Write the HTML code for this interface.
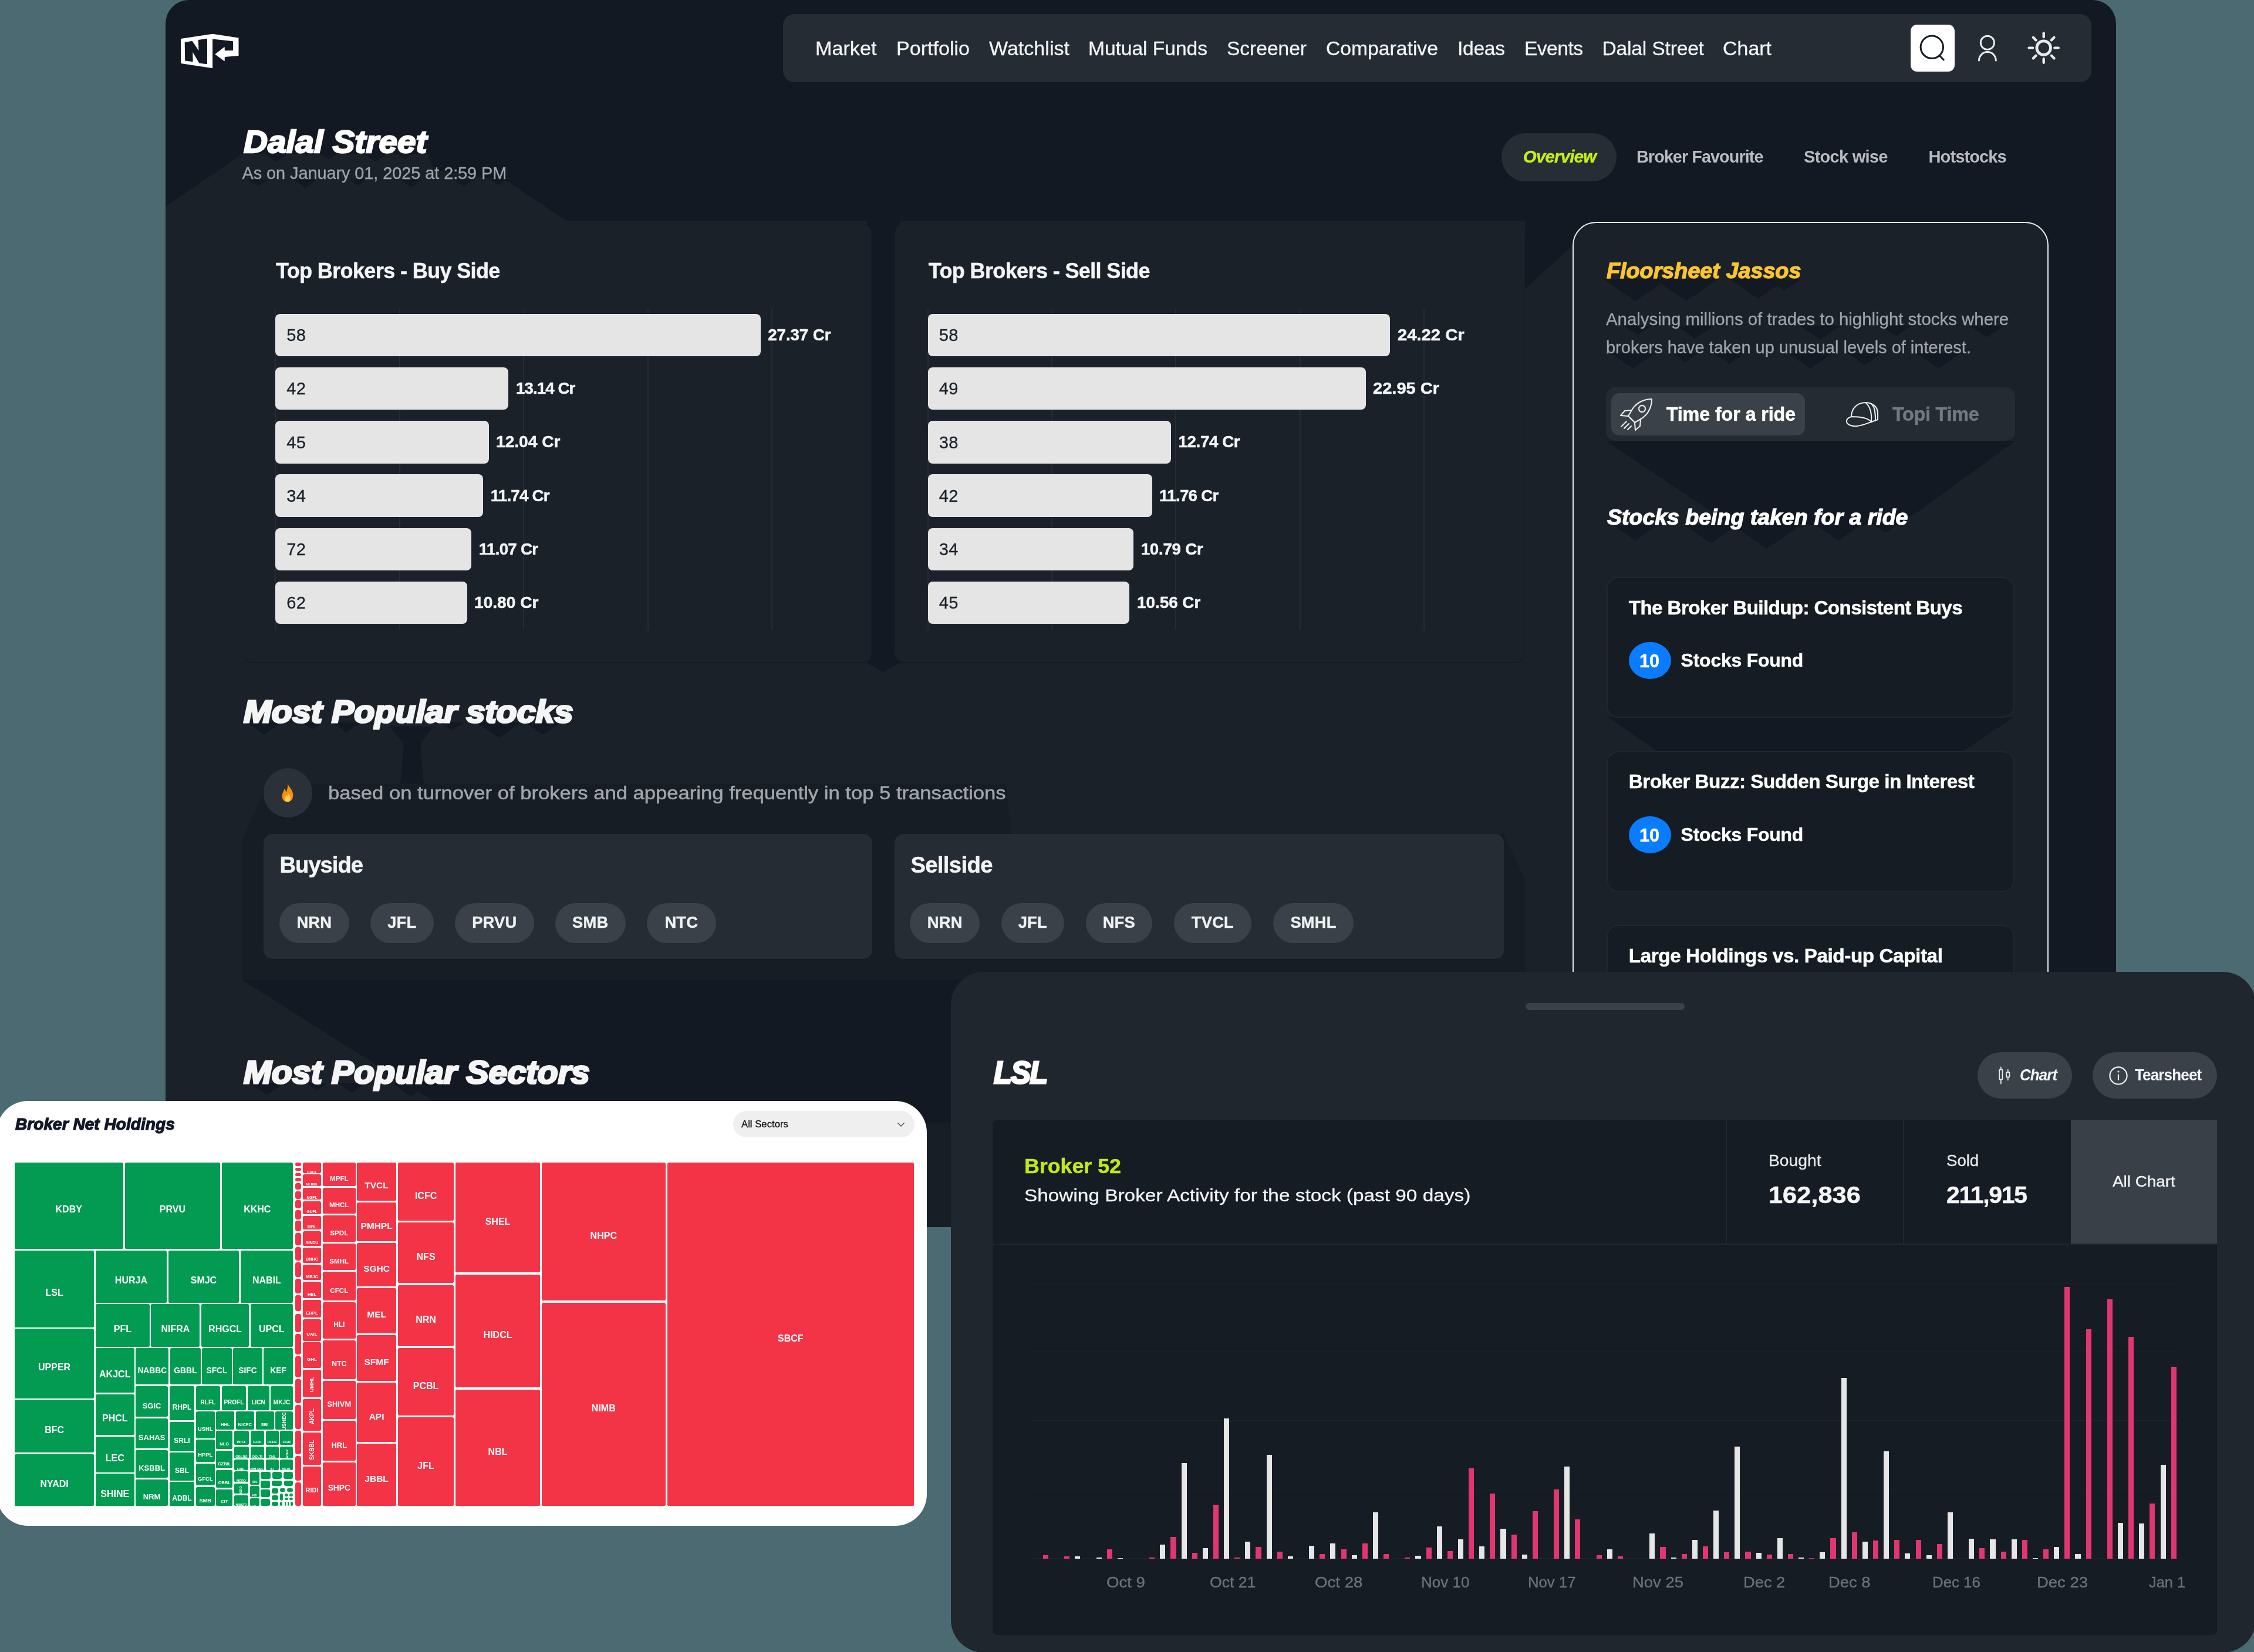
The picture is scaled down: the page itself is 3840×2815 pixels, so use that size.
<!DOCTYPE html>
<html><head><meta charset="utf-8"><title>Dalal Street</title>
<style>
html,body{margin:0;padding:0}
body{width:3840px;height:2815px;overflow:hidden;background:#4c6a72;position:relative;font-family:"Liberation Sans",sans-serif}
.t{position:absolute;white-space:nowrap;line-height:1.1172em}
.b{position:absolute;box-sizing:border-box}
.c{position:absolute;display:flex;align-items:center;justify-content:center;white-space:nowrap;color:#fff;font-weight:700;box-sizing:border-box;overflow:hidden}
svg{position:absolute;overflow:visible}
</style></head><body>
<div id="root" style="position:absolute;left:0;top:0;width:3840px;height:2815px;will-change:transform">
<div id="main" style="position:absolute;left:0;top:0;width:3840px;height:2091px;background:#121922;clip-path:inset(0px 235px 0px 282px round 40px 40px 0px 0px)">
<svg width="3840" height="2091" viewBox="0 0 3840 2091" style="left:0;top:0"><polygon points="282.0,352.0 412.0,263.0 728.0,263.0 740.0,290.0 863.0,308.0 965.0,376.0 2598.0,376.0 2598.0,492.0 2680.0,418.0 2680.0,1669.0 411.0,1669.0 1078.0,2091.0 282.0,2091.0" fill="#1b2129" /><polygon points="1477.0,376.0 1533.0,376.0 1533.0,1130.0 1504.5,1145.0 1477.0,1130.0" fill="#121922" /><polygon points="2562.0,1421.0 2598.0,1500.0 2598.0,1669.0 2680.0,1669.0 2680.0,1700.0 2560.0,1700.0" fill="#1b2129" /><polygon points="412.0,1432.0 449.0,1350.0 472.0,1312.0 531.0,1336.0 1714.0,1336.0 1722.0,1421.0 2562.0,1421.0 2598.0,1500.0 2598.0,1669.0 412.0,1669.0" fill="#161d25" /><polygon points="664.0,1238.0 738.0,1238.0 716.0,1268.0 722.0,1336.0 682.0,1336.0 688.0,1268.0" fill="#121922" /><polygon points="419.6,1231.0 480.4,1231.0 450.0,1252.0" fill="#121922" /><polygon points="514.6,1231.0 549.4,1231.0 532.0,1243.0" fill="#121922" /><polygon points="565.4,1231.0 614.6,1231.0 590.0,1248.0" fill="#121922" /><polygon points="812.3,1231.0 887.7,1231.0 850.0,1257.0" fill="#121922" /><polygon points="894.5,1231.0 955.5,1231.0 925.0,1252.0" fill="#121922" /><polygon points="749.7,1231.0 790.3,1231.0 770.0,1245.0" fill="#121922" /><polygon points="426.0,1846.0 484.0,1846.0 455.0,1866.0" fill="#121922" /><polygon points="522.6,1846.0 557.4,1846.0 540.0,1858.0" fill="#121922" /><polygon points="576.8,1846.0 623.2,1846.0 600.0,1862.0" fill="#121922" /><polygon points="668.1,1846.0 731.9,1846.0 700.0,1868.0" fill="#121922" /><polygon points="825.2,1846.0 894.8,1846.0 860.0,1870.0" fill="#121922" /><polygon points="933.9,1846.0 986.1,1846.0 960.0,1864.0" fill="#121922" /><polygon points="449.7,262.0 490.3,262.0 470.0,276.0" fill="#121922" /><polygon points="545.5,262.0 574.5,262.0 560.0,272.0" fill="#121922" /><polygon points="619.7,262.0 660.3,262.0 640.0,276.0" fill="#121922" /><polygon points="675.5,262.0 704.5,262.0 690.0,272.0" fill="#121922" /><polygon points="422.6,306.0 457.4,306.0 440.0,318.0" fill="#121922" /><polygon points="499.7,306.0 540.3,306.0 520.0,320.0" fill="#121922" /><polygon points="595.5,306.0 624.5,306.0 610.0,316.0" fill="#121922" /><polygon points="681.1,306.0 718.9,306.0 700.0,319.0" fill="#121922" /><polygon points="772.6,306.0 807.4,306.0 790.0,318.0" fill="#121922" /><polygon points="835.5,306.0 864.5,306.0 850.0,316.0" fill="#121922" /></svg>
<div class="b" style="left:1579.0px;top:1913.0px;width:43.0px;height:178.0px;background:#171e26;border-radius:0.0px;"></div>
<svg width="3840" height="200" viewBox="0 0 3840 200" style="left:0;top:0"><polygon points="308.0,66.1 362.1,57.8 406.5,64.4 406.5,94.9 382.9,96.9 382.6,104.6 366.3,92.4 382.6,79.7 382.9,86.3 397.1,86.0 397.1,70.2 362.1,66.4 362.1,116.3 308.0,108.0" fill="#fff" /><polygon points="314.7,72.2 327.4,69.7 338.5,86.3 337.7,68.0 353.0,65.8 353.0,109.3 339.4,107.7 328.3,88.8 328.6,105.2 315.2,103.5" fill="#121922" /></svg>
<div class="b" style="left:1334.0px;top:23.5px;width:2229.0px;height:116.5px;background:#252c34;border-radius:19.0px;"></div>
<div class="t" style="left:1389.0px;top:63.6px;font-size:33.57px;font-weight:400;color:#f3f4f5;letter-spacing:0.000px;-webkit-text-stroke:0.30px #f3f4f5;transform:scaleX(1.0185);transform-origin:0 0;">Market</div>
<div class="t" style="left:1526.5px;top:63.6px;font-size:33.57px;font-weight:400;color:#f3f4f5;letter-spacing:0.000px;-webkit-text-stroke:0.30px #f3f4f5;transform:scaleX(1.0150);transform-origin:0 0;">Portfolio</div>
<div class="t" style="left:1684.5px;top:63.6px;font-size:33.57px;font-weight:400;color:#f3f4f5;letter-spacing:0.000px;-webkit-text-stroke:0.30px #f3f4f5;transform:scaleX(1.0154);transform-origin:0 0;">Watchlist</div>
<div class="t" style="left:1854.0px;top:63.6px;font-size:33.57px;font-weight:400;color:#f3f4f5;letter-spacing:-0.036px;-webkit-text-stroke:0.30px #f3f4f5;">Mutual Funds</div>
<div class="t" style="left:2090.0px;top:63.6px;font-size:33.57px;font-weight:400;color:#f3f4f5;letter-spacing:-0.032px;-webkit-text-stroke:0.30px #f3f4f5;">Screener</div>
<div class="t" style="left:2259.0px;top:63.6px;font-size:33.57px;font-weight:400;color:#f3f4f5;letter-spacing:0.000px;-webkit-text-stroke:0.30px #f3f4f5;transform:scaleX(1.0036);transform-origin:0 0;">Comparative</div>
<div class="t" style="left:2483.0px;top:63.6px;font-size:33.57px;font-weight:400;color:#f3f4f5;letter-spacing:-0.281px;-webkit-text-stroke:0.30px #f3f4f5;">Ideas</div>
<div class="t" style="left:2597.0px;top:63.6px;font-size:33.57px;font-weight:400;color:#f3f4f5;letter-spacing:-0.527px;-webkit-text-stroke:0.30px #f3f4f5;">Events</div>
<div class="t" style="left:2729.5px;top:63.6px;font-size:33.57px;font-weight:400;color:#f3f4f5;letter-spacing:-0.173px;-webkit-text-stroke:0.30px #f3f4f5;">Dalal Street</div>
<div class="t" style="left:2935.0px;top:63.6px;font-size:33.57px;font-weight:400;color:#f3f4f5;letter-spacing:0.000px;-webkit-text-stroke:0.30px #f3f4f5;transform:scaleX(1.0110);transform-origin:0 0;">Chart</div>
<div class="b" style="left:3255.0px;top:41.7px;width:75.4px;height:80.1px;background:#ffffff;border-radius:11.0px;"></div>
<svg width="400" height="160" viewBox="3200 0 400 160" style="left:3200px;top:0" fill="none" stroke-linecap="round">
<circle cx="3291.3" cy="80.3" r="19.2" stroke="#131a22" stroke-width="3"/><path d="M3304.8 95.2 L3311.2 102" stroke="#131a22" stroke-width="3"/>
<circle cx="3385.9" cy="72.8" r="11.6" stroke="#e9eaeb" stroke-width="3"/><path d="M3371.5 103 A14.4 14.4 0 0 1 3400.3 103" stroke="#e9eaeb" stroke-width="3"/>
<circle cx="3481.7" cy="81.6" r="11.8" stroke="#e9eaeb" stroke-width="4.8"/>
<g stroke="#e9eaeb" stroke-width="4.4">
<path d="M3481.7 56.5v6.5M3481.7 100.2v6.5M3456.6 81.6h6.5M3500.3 81.6h6.5M3463.9 63.8l4.6 4.6M3494.9 94.8l4.6 4.6M3499.5 63.8l-4.6 4.6M3468.5 94.8l-4.6 4.6"/></g>
</svg>
<div class="t" style="left:415.0px;top:211.7px;font-size:53.35px;font-weight:700;font-style:italic;color:#ffffff;letter-spacing:0.000px;-webkit-text-stroke:2.40px #ffffff;transform:scaleX(1.0645);transform-origin:0 0;">Dalal Street</div>
<div class="t" style="left:412.5px;top:278.9px;font-size:28.87px;font-weight:400;color:#a1a5aa;letter-spacing:-0.050px;-webkit-text-stroke:0.30px #a1a5aa;">As on January 01, 2025 at 2:59 PM</div>
<div class="b" style="left:2557.5px;top:226.5px;width:196.0px;height:82.5px;background:#262d34;border-radius:42.0px;"></div>
<div class="t" style="left:2595.0px;top:251.2px;font-size:29.10px;font-weight:700;font-style:italic;color:#c6ee1b;letter-spacing:-0.631px;-webkit-text-stroke:0.50px #c6ee1b;">Overview</div>
<div class="t" style="left:2787.5px;top:251.2px;font-size:29.10px;font-weight:700;color:#b9bbbe;letter-spacing:-0.931px;-webkit-text-stroke:0.01px #b9bbbe;transform:scaleX(0.9890);transform-origin:0 0;">Broker Favourite</div>
<div class="t" style="left:3073.0px;top:251.2px;font-size:29.10px;font-weight:700;color:#b9bbbe;letter-spacing:-0.769px;-webkit-text-stroke:0.01px #b9bbbe;">Stock wise</div>
<div class="t" style="left:3285.5px;top:251.2px;font-size:29.10px;font-weight:700;color:#b9bbbe;letter-spacing:-0.931px;-webkit-text-stroke:0.01px #b9bbbe;">Hotstocks</div>
<div class="b" style="left:413.0px;top:381.0px;width:1072.0px;height:748.5px;background:#1b2129;border-radius:16.0px;border:1.5px solid #171e26;border-bottom:2.5px solid #141b23;"></div>
<div class="t" style="left:470.0px;top:441.9px;font-size:36.03px;font-weight:700;color:#f3f4f5;letter-spacing:-0.629px;-webkit-text-stroke:0.50px #f3f4f5;">Top Brokers - Buy Side</div>
<div class="b" style="left:468.2px;top:525.5px;width:2.0px;height:548.0px;background:#252c34;border-radius:0.0px;"></div>
<div class="b" style="left:679.7px;top:525.5px;width:2.0px;height:548.0px;background:#252c34;border-radius:0.0px;"></div>
<div class="b" style="left:891.2px;top:525.5px;width:2.0px;height:548.0px;background:#252c34;border-radius:0.0px;"></div>
<div class="b" style="left:1102.5px;top:525.5px;width:2.0px;height:548.0px;background:#252c34;border-radius:0.0px;"></div>
<div class="b" style="left:1314.3px;top:525.5px;width:2.0px;height:548.0px;background:#252c34;border-radius:0.0px;"></div>
<div class="b" style="left:469.2px;top:534.6px;width:826.8px;height:72.6px;background:#e5e5e5;border-radius:8.0px;"></div>
<div class="t" style="left:488.2px;top:535.1px;font-size:29.0px;color:#1a212a;line-height:72.6px;letter-spacing:0.4px;-webkit-text-stroke:0.3px #1a212a">58</div>
<div class="t" style="left:1308.3px;top:555.8px;font-size:27.71px;font-weight:700;color:#f3f4f5;letter-spacing:-0.093px;-webkit-text-stroke:0.50px #f3f4f5;">27.37 Cr</div>
<div class="b" style="left:469.2px;top:625.8px;width:397.0px;height:72.6px;background:#e5e5e5;border-radius:8.0px;"></div>
<div class="t" style="left:488.2px;top:626.3px;font-size:29.0px;color:#1a212a;line-height:72.6px;letter-spacing:0.4px;-webkit-text-stroke:0.3px #1a212a">42</div>
<div class="t" style="left:878.5px;top:647.1px;font-size:27.71px;font-weight:700;color:#f3f4f5;letter-spacing:-0.887px;-webkit-text-stroke:0.50px #f3f4f5;transform:scaleX(0.9966);transform-origin:0 0;">13.14 Cr</div>
<div class="b" style="left:469.2px;top:717.1px;width:363.6px;height:72.6px;background:#e5e5e5;border-radius:8.0px;"></div>
<div class="t" style="left:488.2px;top:717.6px;font-size:29.0px;color:#1a212a;line-height:72.6px;letter-spacing:0.4px;-webkit-text-stroke:0.3px #1a212a">45</div>
<div class="t" style="left:845.1px;top:738.3px;font-size:27.71px;font-weight:700;color:#f3f4f5;letter-spacing:0.000px;-webkit-text-stroke:0.50px #f3f4f5;transform:scaleX(1.0153);transform-origin:0 0;">12.04 Cr</div>
<div class="b" style="left:469.2px;top:808.3px;width:354.3px;height:72.6px;background:#e5e5e5;border-radius:8.0px;"></div>
<div class="t" style="left:488.2px;top:808.8px;font-size:29.0px;color:#1a212a;line-height:72.6px;letter-spacing:0.4px;-webkit-text-stroke:0.3px #1a212a">34</div>
<div class="t" style="left:835.8px;top:829.5px;font-size:27.71px;font-weight:700;color:#f3f4f5;letter-spacing:-0.803px;-webkit-text-stroke:0.50px #f3f4f5;">11.74 Cr</div>
<div class="b" style="left:469.2px;top:899.6px;width:334.3px;height:72.6px;background:#e5e5e5;border-radius:8.0px;"></div>
<div class="t" style="left:488.2px;top:900.1px;font-size:29.0px;color:#1a212a;line-height:72.6px;letter-spacing:0.4px;-webkit-text-stroke:0.3px #1a212a">72</div>
<div class="t" style="left:815.8px;top:920.8px;font-size:27.71px;font-weight:700;color:#f3f4f5;letter-spacing:-0.718px;-webkit-text-stroke:0.50px #f3f4f5;">11.07 Cr</div>
<div class="b" style="left:469.2px;top:990.8px;width:326.8px;height:72.6px;background:#e5e5e5;border-radius:8.0px;"></div>
<div class="t" style="left:488.2px;top:991.3px;font-size:29.0px;color:#1a212a;line-height:72.6px;letter-spacing:0.4px;-webkit-text-stroke:0.3px #1a212a">62</div>
<div class="t" style="left:808.3px;top:1012.0px;font-size:27.71px;font-weight:700;color:#f3f4f5;letter-spacing:0.000px;-webkit-text-stroke:0.50px #f3f4f5;transform:scaleX(1.0153);transform-origin:0 0;">10.80 Cr</div>
<div class="b" style="left:1524.4px;top:381.0px;width:1073.9px;height:748.5px;background:#1b2129;border-radius:16.0px;border:1.5px solid #171e26;border-bottom:2.5px solid #141b23;"></div>
<div class="t" style="left:1581.8px;top:441.9px;font-size:36.03px;font-weight:700;color:#f3f4f5;letter-spacing:-0.634px;-webkit-text-stroke:0.50px #f3f4f5;">Top Brokers - Sell Side</div>
<div class="b" style="left:1579.7px;top:525.5px;width:2.0px;height:548.0px;background:#252c34;border-radius:0.0px;"></div>
<div class="b" style="left:1791.3px;top:525.5px;width:2.0px;height:548.0px;background:#252c34;border-radius:0.0px;"></div>
<div class="b" style="left:2002.4px;top:525.5px;width:2.0px;height:548.0px;background:#252c34;border-radius:0.0px;"></div>
<div class="b" style="left:2213.5px;top:525.5px;width:2.0px;height:548.0px;background:#252c34;border-radius:0.0px;"></div>
<div class="b" style="left:2425.1px;top:525.5px;width:2.0px;height:548.0px;background:#252c34;border-radius:0.0px;"></div>
<div class="b" style="left:1580.7px;top:534.6px;width:787.5px;height:72.6px;background:#e5e5e5;border-radius:8.0px;"></div>
<div class="t" style="left:1599.7px;top:535.1px;font-size:29.0px;color:#1a212a;line-height:72.6px;letter-spacing:0.4px;-webkit-text-stroke:0.3px #1a212a">58</div>
<div class="t" style="left:2380.5px;top:555.8px;font-size:27.71px;font-weight:700;color:#f3f4f5;letter-spacing:0.000px;-webkit-text-stroke:0.50px #f3f4f5;transform:scaleX(1.0542);transform-origin:0 0;">24.22 Cr</div>
<div class="b" style="left:1580.7px;top:625.8px;width:746.4px;height:72.6px;background:#e5e5e5;border-radius:8.0px;"></div>
<div class="t" style="left:1599.7px;top:626.3px;font-size:29.0px;color:#1a212a;line-height:72.6px;letter-spacing:0.4px;-webkit-text-stroke:0.3px #1a212a">49</div>
<div class="t" style="left:2339.4px;top:647.1px;font-size:27.71px;font-weight:700;color:#f3f4f5;letter-spacing:0.000px;-webkit-text-stroke:0.50px #f3f4f5;transform:scaleX(1.0486);transform-origin:0 0;">22.95 Cr</div>
<div class="b" style="left:1580.7px;top:717.1px;width:414.6px;height:72.6px;background:#e5e5e5;border-radius:8.0px;"></div>
<div class="t" style="left:1599.7px;top:717.6px;font-size:29.0px;color:#1a212a;line-height:72.6px;letter-spacing:0.4px;-webkit-text-stroke:0.3px #1a212a">38</div>
<div class="t" style="left:2007.6px;top:738.3px;font-size:27.71px;font-weight:700;color:#f3f4f5;letter-spacing:-0.408px;-webkit-text-stroke:0.50px #f3f4f5;">12.74 Cr</div>
<div class="b" style="left:1580.7px;top:808.3px;width:382.1px;height:72.6px;background:#e5e5e5;border-radius:8.0px;"></div>
<div class="t" style="left:1599.7px;top:808.8px;font-size:29.0px;color:#1a212a;line-height:72.6px;letter-spacing:0.4px;-webkit-text-stroke:0.3px #1a212a">42</div>
<div class="t" style="left:1975.1px;top:829.5px;font-size:27.71px;font-weight:700;color:#f3f4f5;letter-spacing:-0.732px;-webkit-text-stroke:0.50px #f3f4f5;">11.76 Cr</div>
<div class="b" style="left:1580.7px;top:899.6px;width:350.7px;height:72.6px;background:#e5e5e5;border-radius:8.0px;"></div>
<div class="t" style="left:1599.7px;top:900.1px;font-size:29.0px;color:#1a212a;line-height:72.6px;letter-spacing:0.4px;-webkit-text-stroke:0.3px #1a212a">34</div>
<div class="t" style="left:1943.7px;top:920.8px;font-size:27.71px;font-weight:700;color:#f3f4f5;letter-spacing:-0.250px;-webkit-text-stroke:0.50px #f3f4f5;">10.79 Cr</div>
<div class="b" style="left:1580.7px;top:990.8px;width:343.7px;height:72.6px;background:#e5e5e5;border-radius:8.0px;"></div>
<div class="t" style="left:1599.7px;top:991.3px;font-size:29.0px;color:#1a212a;line-height:72.6px;letter-spacing:0.4px;-webkit-text-stroke:0.3px #1a212a">45</div>
<div class="t" style="left:1936.7px;top:1012.0px;font-size:27.71px;font-weight:700;color:#f3f4f5;letter-spacing:0.000px;-webkit-text-stroke:0.50px #f3f4f5;transform:scaleX(1.0041);transform-origin:0 0;">10.56 Cr</div>
<div class="t" style="left:415.0px;top:1182.7px;font-size:53.35px;font-weight:700;font-style:italic;color:#f5f5f6;letter-spacing:0.000px;-webkit-text-stroke:3.20px #f5f5f6;transform:scaleX(1.0762);transform-origin:0 0;">Most Popular stocks</div>
<div class="b" style="left:448.5px;top:1309.0px;width:83.0px;height:83.5px;background:#2a3139;border-radius:42.0px;"></div>
<svg width="28" height="34" viewBox="0 0 40 46" preserveAspectRatio="none" style="left:475.5px;top:1334px">
<path d="M20 1 C22 9 31 14 33 25 C35 36 28 44 20 44 C11 44 5 37 7 27 C8 22 11 19 12 14 C15 16 16 19 16 22 C19 17 21 9 20 1Z" fill="#f4900c"/>
<path d="M20 22 C24 27 28 31 27 37 C26 42 23 44 20 44 C16 44 13 41 13 36 C13 32 16 30 17 27 C18 29 19 30 19 32 C20 29 21 26 20 22Z" fill="#ffcc4d"/></svg>
<div class="t" style="left:559.0px;top:1333.3px;font-size:32.23px;font-weight:400;color:#a2a6ab;letter-spacing:0.000px;-webkit-text-stroke:0.55px #a2a6ab;transform:scaleX(1.0744);transform-origin:0 0;">based on turnover of brokers and appearing frequently in top 5 transactions</div>
<div class="b" style="left:448.5px;top:1420.5px;width:1037.5px;height:213.5px;background:#252c34;border-radius:15.0px;"></div>
<div class="t" style="left:476.5px;top:1453.0px;font-size:38.11px;font-weight:700;color:#f3f4f5;letter-spacing:-0.957px;-webkit-text-stroke:0.50px #f3f4f5;">Buyside</div>
<div class="b" style="left:476.0px;top:1539.0px;width:118.5px;height:67.5px;background:#3a4149;border-radius:34.0px;"></div>
<div class="t" style="left:476.0px;top:1539px;width:118.5px;text-align:center;font-size:27.3px;font-weight:700;color:#f0f1f2;line-height:66px;letter-spacing:0.2px;-webkit-text-stroke:0.4px #f0f1f2">NRN</div>
<div class="b" style="left:631.0px;top:1539.0px;width:107.5px;height:67.5px;background:#3a4149;border-radius:34.0px;"></div>
<div class="t" style="left:631.0px;top:1539px;width:107.5px;text-align:center;font-size:27.3px;font-weight:700;color:#f0f1f2;line-height:66px;letter-spacing:0.2px;-webkit-text-stroke:0.4px #f0f1f2">JFL</div>
<div class="b" style="left:775.0px;top:1539.0px;width:134.5px;height:67.5px;background:#3a4149;border-radius:34.0px;"></div>
<div class="t" style="left:775.0px;top:1539px;width:134.5px;text-align:center;font-size:27.3px;font-weight:700;color:#f0f1f2;line-height:66px;letter-spacing:0.2px;-webkit-text-stroke:0.4px #f0f1f2">PRVU</div>
<div class="b" style="left:946.0px;top:1539.0px;width:119.5px;height:67.5px;background:#3a4149;border-radius:34.0px;"></div>
<div class="t" style="left:946.0px;top:1539px;width:119.5px;text-align:center;font-size:27.3px;font-weight:700;color:#f0f1f2;line-height:66px;letter-spacing:0.2px;-webkit-text-stroke:0.4px #f0f1f2">SMB</div>
<div class="b" style="left:1102.0px;top:1539.0px;width:117.5px;height:67.5px;background:#3a4149;border-radius:34.0px;"></div>
<div class="t" style="left:1102.0px;top:1539px;width:117.5px;text-align:center;font-size:27.3px;font-weight:700;color:#f0f1f2;line-height:66px;letter-spacing:0.2px;-webkit-text-stroke:0.4px #f0f1f2">NTC</div>
<div class="b" style="left:1524.0px;top:1420.5px;width:1038.0px;height:213.5px;background:#252c34;border-radius:15.0px;"></div>
<div class="t" style="left:1551.4px;top:1453.0px;font-size:38.11px;font-weight:700;color:#f3f4f5;letter-spacing:-0.577px;-webkit-text-stroke:0.50px #f3f4f5;">Sellside</div>
<div class="b" style="left:1550.3px;top:1539.0px;width:118.9px;height:67.5px;background:#3a4149;border-radius:34.0px;"></div>
<div class="t" style="left:1550.3px;top:1539px;width:118.9px;text-align:center;font-size:27.3px;font-weight:700;color:#f0f1f2;line-height:66px;letter-spacing:0.2px;-webkit-text-stroke:0.4px #f0f1f2">NRN</div>
<div class="b" style="left:1706.0px;top:1539.0px;width:106.6px;height:67.5px;background:#3a4149;border-radius:34.0px;"></div>
<div class="t" style="left:1706.0px;top:1539px;width:106.6px;text-align:center;font-size:27.3px;font-weight:700;color:#f0f1f2;line-height:66px;letter-spacing:0.2px;-webkit-text-stroke:0.4px #f0f1f2">JFL</div>
<div class="b" style="left:1849.5px;top:1539.0px;width:113.6px;height:67.5px;background:#3a4149;border-radius:34.0px;"></div>
<div class="t" style="left:1849.5px;top:1539px;width:113.6px;text-align:center;font-size:27.3px;font-weight:700;color:#f0f1f2;line-height:66px;letter-spacing:0.2px;-webkit-text-stroke:0.4px #f0f1f2">NFS</div>
<div class="b" style="left:2000.0px;top:1539.0px;width:131.8px;height:67.5px;background:#3a4149;border-radius:34.0px;"></div>
<div class="t" style="left:2000.0px;top:1539px;width:131.8px;text-align:center;font-size:27.3px;font-weight:700;color:#f0f1f2;line-height:66px;letter-spacing:0.2px;-webkit-text-stroke:0.4px #f0f1f2">TVCL</div>
<div class="b" style="left:2168.7px;top:1539.0px;width:137.6px;height:67.5px;background:#3a4149;border-radius:34.0px;"></div>
<div class="t" style="left:2168.7px;top:1539px;width:137.6px;text-align:center;font-size:27.3px;font-weight:700;color:#f0f1f2;line-height:66px;letter-spacing:0.2px;-webkit-text-stroke:0.4px #f0f1f2">SMHL</div>
<div class="t" style="left:414.7px;top:1796.6px;font-size:54.74px;font-weight:700;font-style:italic;color:#f5f5f6;letter-spacing:0.000px;-webkit-text-stroke:3.20px #f5f5f6;transform:scaleX(1.0480);transform-origin:0 0;">Most Popular Sectors</div>
<div class="b" style="left:2679.0px;top:377.7px;width:810.6px;height:1822.3px;background:#1b2129;border-radius:40.0px;border:2.6px solid #e6e8ea;"></div>
<svg width="3840" height="2091" viewBox="0 0 3840 2091" style="left:0;top:0"><polygon points="2736.0,751.5 3433.0,751.5 3236.0,895.0 2951.0,895.0" fill="#121922" /><polygon points="2739.0,1222.0 3431.0,1222.0 3344.0,1280.0 2824.0,1280.0" fill="#121922" /><polygon points="2730.9,475.0 2841.1,475.0 2786.0,513.0" fill="#121922" /><polygon points="2817.9,475.0 2928.1,475.0 2873.0,513.0" fill="#121922" /><polygon points="2945.7,475.0 3044.3,475.0 2995.0,509.0" fill="#121922" /><polygon points="3011.0,475.0 3069.0,475.0 3040.0,495.0" fill="#121922" /><polygon points="2856.1,555.0 2919.9,555.0 2888.0,577.0" fill="#121922" /><polygon points="3066.2,555.0 3135.8,555.0 3101.0,579.0" fill="#121922" /><polygon points="3356.0,555.0 3414.0,555.0 3385.0,575.0" fill="#121922" /><polygon points="2766.8,555.0 2813.2,555.0 2790.0,571.0" fill="#121922" /><polygon points="3203.9,555.0 3256.1,555.0 3230.0,573.0" fill="#121922" /><polygon points="2744.3,602.0 2819.7,602.0 2782.0,628.0" fill="#121922" /><polygon points="2849.2,602.0 2892.8,602.0 2871.0,617.0" fill="#121922" /><polygon points="2919.9,602.0 2972.1,602.0 2946.0,620.0" fill="#121922" /><polygon points="3046.3,602.0 3121.7,602.0 3084.0,628.0" fill="#121922" /><polygon points="3148.0,602.0 3206.0,602.0 3177.0,622.0" fill="#121922" /><polygon points="3265.3,602.0 3340.7,602.0 3303.0,628.0" fill="#121922" /><polygon points="2748.3,895.0 2823.7,895.0 2786.0,921.0" fill="#121922" /><polygon points="2870.1,895.0 2959.9,895.0 2915.0,926.0" fill="#121922" /><polygon points="2952.0,895.0 3068.0,895.0 3010.0,935.0" fill="#121922" /><polygon points="3094.3,895.0 3169.7,895.0 3132.0,921.0" fill="#121922" /><polygon points="3193.2,895.0 3230.8,895.0 3212.0,908.0" fill="#121922" /></svg>
<div class="t" style="left:2736.7px;top:441.0px;font-size:36.86px;font-weight:700;font-style:italic;color:#fbc531;letter-spacing:0.000px;-webkit-text-stroke:1.30px #fbc531;transform:scaleX(1.0239);transform-origin:0 0;">Floorsheet Jassos</div>
<div class="t" style="left:2735.8px;top:527.7px;font-size:28.87px;font-weight:400;color:#a1a5aa;letter-spacing:0.000px;-webkit-text-stroke:0.30px #a1a5aa;transform:scaleX(1.0184);transform-origin:0 0;">Analysing millions of trades to highlight stocks where</div>
<div class="t" style="left:2735.8px;top:575.7px;font-size:28.87px;font-weight:400;color:#a1a5aa;letter-spacing:0.000px;-webkit-text-stroke:0.30px #a1a5aa;transform:scaleX(1.0044);transform-origin:0 0;">brokers have taken up unusual levels of interest.</div>
<div class="b" style="left:2735.7px;top:660.4px;width:697.4px;height:91.0px;background:#242b33;border-radius:16.0px;"></div>
<div class="b" style="left:2744.8px;top:669.5px;width:330.1px;height:72.5px;background:#3a4149;border-radius:14.0px;"></div>
<div class="t" style="left:2838.7px;top:687.6px;font-size:32.29px;font-weight:700;color:#ffffff;letter-spacing:-0.100px;-webkit-text-stroke:0.50px #ffffff;">Time for a ride</div>
<div class="t" style="left:3223.9px;top:687.6px;font-size:32.29px;font-weight:700;color:#737980;letter-spacing:-0.211px;-webkit-text-stroke:0.50px #737980;">Topi Time</div>
<svg width="57" height="57" viewBox="0 0 57 57" style="left:2758.5px;top:677.5px" fill="none" stroke="#eceded" stroke-width="2.1" stroke-linejoin="round" stroke-linecap="round">
<path d="M55 2 C43 2 30 7 22 19 L15 31 L26 42 L38 35 C50 27 55 14 55 2Z"/>
<circle cx="38.5" cy="18.5" r="5.6"/>
<path d="M21 21 L9 22 L2 30 L14 31"/><path d="M36 36 L35 48 L27 55 L26 43"/>
<path d="M18 34 L23 39"/>
<path d="M12 40 L3 49M16 44 L8 52M20 48 L14 54"/></svg>
<svg width="57" height="45" viewBox="0 0 57 45" style="left:3143.5px;top:683.5px" fill="none" stroke="#eceded" stroke-width="2.1" stroke-linejoin="round" stroke-linecap="round">
<path d="M10 26 C10 12 20 2 34 2 C46 2 55 9 55 20 L55 31 L44 35"/>
<path d="M10 26 C4 28 1 31 2 35 C3 40 12 43 20 42 C29 41 38 37 44 35 C40 30 30 26 10 26Z"/>
<path d="M34 2 C42 8 45 20 44 35"/><path d="M43 3 C49 8 51 16 51 32"/></svg>
<div class="t" style="left:2737.6px;top:861.2px;font-size:36.86px;font-weight:700;font-style:italic;color:#ffffff;letter-spacing:0.000px;-webkit-text-stroke:1.30px #ffffff;transform:scaleX(1.0169);transform-origin:0 0;">Stocks being taken for a ride</div>
<div class="b" style="left:2736.6px;top:982.8px;width:695.5px;height:240.1px;background:#151c24;border-radius:20.0px;border:2px solid #20272f;"></div>
<div class="t" style="left:2774.8px;top:1016.6px;font-size:33.26px;font-weight:700;color:#ffffff;letter-spacing:-0.656px;-webkit-text-stroke:0.50px #ffffff;">The Broker Buildup: Consistent Buys</div>
<div class="b" style="left:2774.8px;top:1094.1px;width:71.8px;height:63px;border-radius:50%;background:#0a7cff"></div>
<div class="t" style="left:2793.2px;top:1109.3px;font-size:30.49px;font-weight:700;color:#ffffff;letter-spacing:0.000px;-webkit-text-stroke:0.50px #ffffff;transform:scaleX(1.0027);transform-origin:0 0;">10</div>
<div class="t" style="left:2863.6px;top:1108.0px;font-size:31.87px;font-weight:700;color:#ffffff;letter-spacing:-0.174px;-webkit-text-stroke:0.50px #ffffff;">Stocks Found</div>
<div class="b" style="left:2736.6px;top:1279.5px;width:695.5px;height:240.1px;background:#151c24;border-radius:20.0px;border:2px solid #20272f;"></div>
<div class="t" style="left:2774.8px;top:1313.3px;font-size:33.26px;font-weight:700;color:#ffffff;letter-spacing:-0.521px;-webkit-text-stroke:0.50px #ffffff;">Broker Buzz: Sudden Surge in Interest</div>
<div class="b" style="left:2774.8px;top:1390.8px;width:71.8px;height:63px;border-radius:50%;background:#0a7cff"></div>
<div class="t" style="left:2793.2px;top:1406.0px;font-size:30.49px;font-weight:700;color:#ffffff;letter-spacing:0.000px;-webkit-text-stroke:0.50px #ffffff;transform:scaleX(1.0027);transform-origin:0 0;">10</div>
<div class="t" style="left:2863.6px;top:1404.7px;font-size:31.87px;font-weight:700;color:#ffffff;letter-spacing:-0.174px;-webkit-text-stroke:0.50px #ffffff;">Stocks Found</div>
<div class="b" style="left:2736.6px;top:1576.2px;width:695.5px;height:240.1px;background:#151c24;border-radius:20.0px;border:2px solid #20272f;"></div>
<div class="t" style="left:2774.8px;top:1610.0px;font-size:33.26px;font-weight:700;color:#ffffff;letter-spacing:-0.413px;-webkit-text-stroke:0.50px #ffffff;">Large Holdings vs. Paid-up Capital</div>
<div class="b" style="left:2774.8px;top:1687.5px;width:71.8px;height:63px;border-radius:50%;background:#0a7cff"></div>
<div class="t" style="left:2793.2px;top:1702.7px;font-size:30.49px;font-weight:700;color:#ffffff;letter-spacing:0.000px;-webkit-text-stroke:0.50px #ffffff;transform:scaleX(1.0027);transform-origin:0 0;">10</div>
<div class="t" style="left:2863.6px;top:1701.4px;font-size:31.87px;font-weight:700;color:#ffffff;letter-spacing:-0.174px;-webkit-text-stroke:0.50px #ffffff;">Stocks Found</div>
</div>
<div class="b" style="left:1620.4px;top:1655.7px;width:2222.6px;height:1160.8px;background:#1f262e;border-radius:56.0px;"></div>
<div class="b" style="left:2598.8px;top:1708.6px;width:271.2px;height:12.9px;background:#3a4149;border-radius:6.5px;"></div>
<div class="t" style="left:1693.4px;top:1797.7px;font-size:54.32px;font-weight:700;font-style:italic;color:#ffffff;letter-spacing:-1.738px;-webkit-text-stroke:3.20px #ffffff;transform:scaleX(0.9302);transform-origin:0 0;">LSL</div>
<div class="b" style="left:3369.1px;top:1793.0px;width:160.6px;height:79.3px;background:#3a4149;border-radius:40.0px;"></div>
<div class="b" style="left:3564.7px;top:1793.0px;width:212.3px;height:79.3px;background:#3a4149;border-radius:40.0px;"></div>
<svg width="24" height="32" viewBox="0 0 24 32" style="left:3402.5px;top:1816.5px" fill="none" stroke="#e6e7e8" stroke-width="1.8" stroke-linecap="round" stroke-linejoin="round">
<rect x="3.2" y="5.5" width="5.2" height="17" rx="1"/><path d="M5.8 1.5v4M5.8 22.5v7"/>
<rect x="15.2" y="10" width="5.2" height="8.5" rx="1"/><path d="M17.8 6v4M17.8 18.5v5"/></svg>
<div class="t" style="left:3441.3px;top:1817.1px;font-size:27.71px;font-weight:700;font-style:italic;color:#f3f4f5;letter-spacing:-0.887px;-webkit-text-stroke:0.01px #f3f4f5;transform:scaleX(0.9328);transform-origin:0 0;">Chart</div>
<svg width="36" height="36" viewBox="0 0 36 36" style="left:3590.9px;top:1814.7px" fill="none" stroke="#f0f1f2" stroke-width="2.2" stroke-linecap="round">
<circle cx="18" cy="18" r="14.6"/><path d="M18 16.5v8.5"/><circle cx="18" cy="11" r="0.6" stroke-width="2"/></svg>
<div class="t" style="left:3637.3px;top:1817.1px;font-size:27.71px;font-weight:700;color:#f3f4f5;letter-spacing:-0.887px;-webkit-text-stroke:0.01px #f3f4f5;transform:scaleX(0.9377);transform-origin:0 0;">Tearsheet</div>
<div class="b" style="left:1690.5px;top:1908.0px;width:2086.5px;height:878.0px;background:#161c24;border-radius:8px;"></div>
<div class="b" style="left:3528.4px;top:1908.0px;width:248.6px;height:211.6px;background:#394048;border-radius:0;"></div>
<div class="b" style="left:1690.5px;top:2119.0px;width:2086.5px;height:2.0px;background:#20272f;border-radius:0.0px;"></div>
<div class="b" style="left:2940.0px;top:1908.0px;width:2.0px;height:211.6px;background:#20272f;border-radius:0.0px;"></div>
<div class="b" style="left:3242.0px;top:1908.0px;width:2.0px;height:211.6px;background:#20272f;border-radius:0.0px;"></div>
<div class="t" style="left:1745.0px;top:1967.7px;font-size:34.23px;font-weight:700;color:#bfe81f;letter-spacing:0.000px;-webkit-text-stroke:0.50px #bfe81f;transform:scaleX(1.0449);transform-origin:0 0;">Broker 52</div>
<div class="t" style="left:1745.0px;top:2019.9px;font-size:30.21px;font-weight:400;color:#f3f4f5;letter-spacing:0.000px;-webkit-text-stroke:0.30px #f3f4f5;transform:scaleX(1.1046);transform-origin:0 0;">Showing Broker Activity for the stock (past 90 days)</div>
<div class="t" style="left:3013.4px;top:1963.1px;font-size:26.86px;font-weight:400;color:#e9eaeb;letter-spacing:0.000px;-webkit-text-stroke:0.30px #e9eaeb;transform:scaleX(1.0526);transform-origin:0 0;">Bought</div>
<div class="t" style="left:3013.4px;top:2013.2px;font-size:41.57px;font-weight:700;color:#f5f5f6;letter-spacing:0.000px;-webkit-text-stroke:0.50px #f5f5f6;transform:scaleX(1.0434);transform-origin:0 0;">162,836</div>
<div class="t" style="left:3315.8px;top:1963.1px;font-size:26.86px;font-weight:400;color:#e9eaeb;letter-spacing:0.000px;-webkit-text-stroke:0.30px #e9eaeb;transform:scaleX(1.0269);transform-origin:0 0;">Sold</div>
<div class="t" style="left:3315.8px;top:2013.2px;font-size:41.57px;font-weight:700;color:#f5f5f6;letter-spacing:-1.330px;-webkit-text-stroke:0.50px #f5f5f6;transform:scaleX(0.9857);transform-origin:0 0;">211,915</div>
<div class="t" style="left:3599.3px;top:1999.2px;font-size:26.05px;font-weight:400;color:#f3f4f5;letter-spacing:0.000px;-webkit-text-stroke:0.30px #f3f4f5;transform:scaleX(1.0691);transform-origin:0 0;">All Chart</div>
<div class="b" style="left:1757.0px;top:2185.5px;width:1956.0px;height:1.6px;background:#1c232b;border-radius:0.0px;"></div>
<div class="b" style="left:1757.0px;top:2302.8px;width:1956.0px;height:1.6px;background:#1c232b;border-radius:0.0px;"></div>
<div class="b" style="left:1757.0px;top:2419.7px;width:1956.0px;height:1.6px;background:#1c232b;border-radius:0.0px;"></div>
<div class="b" style="left:1757.0px;top:2536.9px;width:1956.0px;height:1.6px;background:#1c232b;border-radius:0.0px;"></div>
<div class="b" style="left:1757.0px;top:2655.0px;width:1956.0px;height:1.4px;background:#1e252d;border-radius:0.0px;"></div>
<svg width="2000" height="520" viewBox="1750 2160 2000 520" style="left:1750px;top:2160px" shape-rendering="crispEdges"><rect x="1776.86" y="2650.10" width="9.1" height="5.60" fill="#e23670"/><rect x="1813.12" y="2651.80" width="9.1" height="3.90" fill="#e23670"/><rect x="1831.25" y="2651.50" width="9.1" height="4.20" fill="#e6e6e6"/><rect x="1867.51" y="2653.70" width="9.1" height="2.00" fill="#e6e6e6"/><rect x="1885.64" y="2639.90" width="9.1" height="15.80" fill="#e23670"/><rect x="1903.77" y="2654.70" width="9.1" height="1.00" fill="#e6e6e6"/><rect x="1958.16" y="2653.90" width="9.1" height="1.80" fill="#e23670"/><rect x="1976.29" y="2632.20" width="9.1" height="23.50" fill="#e6e6e6"/><rect x="1994.42" y="2618.80" width="9.1" height="36.90" fill="#e23670"/><rect x="2012.55" y="2493.20" width="9.1" height="162.50" fill="#e6e6e6"/><rect x="2030.68" y="2645.50" width="9.1" height="10.20" fill="#e23670"/><rect x="2048.81" y="2638.10" width="9.1" height="17.60" fill="#e6e6e6"/><rect x="2066.94" y="2563.70" width="9.1" height="92.00" fill="#e23670"/><rect x="2085.07" y="2417.30" width="9.1" height="238.40" fill="#e6e6e6"/><rect x="2103.20" y="2653.70" width="9.1" height="2.00" fill="#e23670"/><rect x="2121.33" y="2626.60" width="9.1" height="29.10" fill="#e6e6e6"/><rect x="2139.46" y="2636.40" width="9.1" height="19.30" fill="#e23670"/><rect x="2157.59" y="2478.80" width="9.1" height="176.90" fill="#e6e6e6"/><rect x="2175.72" y="2644.10" width="9.1" height="11.60" fill="#e23670"/><rect x="2193.85" y="2652.20" width="9.1" height="3.50" fill="#e6e6e6"/><rect x="2230.11" y="2633.60" width="9.1" height="22.10" fill="#e6e6e6"/><rect x="2248.24" y="2647.70" width="9.1" height="8.00" fill="#e23670"/><rect x="2266.37" y="2630.40" width="9.1" height="25.30" fill="#e6e6e6"/><rect x="2284.50" y="2639.60" width="9.1" height="16.10" fill="#e23670"/><rect x="2302.63" y="2650.40" width="9.1" height="5.30" fill="#e6e6e6"/><rect x="2320.76" y="2630.40" width="9.1" height="25.30" fill="#e23670"/><rect x="2338.89" y="2577.10" width="9.1" height="78.60" fill="#e6e6e6"/><rect x="2357.02" y="2647.70" width="9.1" height="8.00" fill="#e23670"/><rect x="2393.28" y="2653.70" width="9.1" height="2.00" fill="#e23670"/><rect x="2411.41" y="2650.80" width="9.1" height="4.90" fill="#e6e6e6"/><rect x="2429.54" y="2637.40" width="9.1" height="18.30" fill="#e23670"/><rect x="2447.67" y="2600.60" width="9.1" height="55.10" fill="#e6e6e6"/><rect x="2465.80" y="2643.40" width="9.1" height="12.30" fill="#e23670"/><rect x="2483.93" y="2623.40" width="9.1" height="32.30" fill="#e6e6e6"/><rect x="2502.06" y="2501.90" width="9.1" height="153.80" fill="#e23670"/><rect x="2520.19" y="2635.00" width="9.1" height="20.70" fill="#e6e6e6"/><rect x="2538.32" y="2544.80" width="9.1" height="110.90" fill="#e23670"/><rect x="2556.45" y="2604.80" width="9.1" height="50.90" fill="#e6e6e6"/><rect x="2574.58" y="2614.60" width="9.1" height="41.10" fill="#e23670"/><rect x="2592.71" y="2649.00" width="9.1" height="6.70" fill="#e6e6e6"/><rect x="2610.84" y="2575.00" width="9.1" height="80.70" fill="#e23670"/><rect x="2647.10" y="2537.70" width="9.1" height="118.00" fill="#e23670"/><rect x="2665.23" y="2498.80" width="9.1" height="156.90" fill="#e6e6e6"/><rect x="2683.36" y="2589.00" width="9.1" height="66.70" fill="#e23670"/><rect x="2719.62" y="2650.40" width="9.1" height="5.30" fill="#e23670"/><rect x="2737.75" y="2639.90" width="9.1" height="15.80" fill="#e6e6e6"/><rect x="2755.88" y="2652.20" width="9.1" height="3.50" fill="#e23670"/><rect x="2810.27" y="2613.20" width="9.1" height="42.50" fill="#e6e6e6"/><rect x="2828.40" y="2635.70" width="9.1" height="20.00" fill="#e23670"/><rect x="2846.53" y="2654.30" width="9.1" height="1.40" fill="#e6e6e6"/><rect x="2864.66" y="2647.70" width="9.1" height="8.00" fill="#e23670"/><rect x="2882.79" y="2624.10" width="9.1" height="31.60" fill="#e6e6e6"/><rect x="2900.92" y="2635.00" width="9.1" height="20.70" fill="#e23670"/><rect x="2919.05" y="2573.90" width="9.1" height="81.80" fill="#e6e6e6"/><rect x="2937.18" y="2644.80" width="9.1" height="10.90" fill="#e23670"/><rect x="2955.31" y="2465.40" width="9.1" height="190.30" fill="#e6e6e6"/><rect x="2973.44" y="2644.10" width="9.1" height="11.60" fill="#e23670"/><rect x="2991.57" y="2645.90" width="9.1" height="9.80" fill="#e6e6e6"/><rect x="3009.70" y="2649.00" width="9.1" height="6.70" fill="#e23670"/><rect x="3027.83" y="2620.60" width="9.1" height="35.10" fill="#e6e6e6"/><rect x="3045.96" y="2647.70" width="9.1" height="8.00" fill="#e23670"/><rect x="3064.09" y="2653.90" width="9.1" height="1.80" fill="#e6e6e6"/><rect x="3082.22" y="2655.10" width="9.1" height="0.60" fill="#e23670"/><rect x="3100.35" y="2644.50" width="9.1" height="11.20" fill="#e6e6e6"/><rect x="3118.48" y="2621.30" width="9.1" height="34.40" fill="#e23670"/><rect x="3136.61" y="2347.50" width="9.1" height="308.20" fill="#e6e6e6"/><rect x="3154.74" y="2611.10" width="9.1" height="44.60" fill="#e23670"/><rect x="3172.87" y="2627.30" width="9.1" height="28.40" fill="#e6e6e6"/><rect x="3191.00" y="2624.50" width="9.1" height="31.20" fill="#e23670"/><rect x="3209.13" y="2473.20" width="9.1" height="182.50" fill="#e6e6e6"/><rect x="3227.26" y="2623.80" width="9.1" height="31.90" fill="#e23670"/><rect x="3245.39" y="2646.60" width="9.1" height="9.10" fill="#e6e6e6"/><rect x="3263.52" y="2623.80" width="9.1" height="31.90" fill="#e23670"/><rect x="3281.65" y="2650.10" width="9.1" height="5.60" fill="#e6e6e6"/><rect x="3299.78" y="2630.80" width="9.1" height="24.90" fill="#e23670"/><rect x="3317.91" y="2577.10" width="9.1" height="78.60" fill="#e6e6e6"/><rect x="3354.17" y="2621.70" width="9.1" height="34.00" fill="#e6e6e6"/><rect x="3372.30" y="2638.10" width="9.1" height="17.60" fill="#e23670"/><rect x="3390.43" y="2623.40" width="9.1" height="32.30" fill="#e6e6e6"/><rect x="3408.56" y="2643.80" width="9.1" height="11.90" fill="#e23670"/><rect x="3426.69" y="2622.70" width="9.1" height="33.00" fill="#e6e6e6"/><rect x="3444.82" y="2624.10" width="9.1" height="31.60" fill="#e23670"/><rect x="3462.95" y="2654.70" width="9.1" height="1.00" fill="#e6e6e6"/><rect x="3481.08" y="2639.90" width="9.1" height="15.80" fill="#e23670"/><rect x="3499.21" y="2636.40" width="9.1" height="19.30" fill="#e6e6e6"/><rect x="3517.34" y="2193.40" width="9.1" height="462.30" fill="#e23670"/><rect x="3535.47" y="2647.70" width="9.1" height="8.00" fill="#e6e6e6"/><rect x="3553.60" y="2265.30" width="9.1" height="390.40" fill="#e23670"/><rect x="3589.86" y="2213.70" width="9.1" height="442.00" fill="#e23670"/><rect x="3607.99" y="2594.60" width="9.1" height="61.10" fill="#e6e6e6"/><rect x="3626.12" y="2278.30" width="9.1" height="377.40" fill="#e23670"/><rect x="3644.25" y="2596.00" width="9.1" height="59.70" fill="#e6e6e6"/><rect x="3662.38" y="2561.60" width="9.1" height="94.10" fill="#e23670"/><rect x="3680.51" y="2495.70" width="9.1" height="160.00" fill="#e6e6e6"/><rect x="3698.64" y="2328.50" width="9.1" height="327.20" fill="#e23670"/></svg>
<div class="t" style="left:1885.3px;top:2682.6px;font-size:24.98px;font-weight:400;color:#6d737a;letter-spacing:0.000px;-webkit-text-stroke:0.30px #6d737a;transform:scaleX(1.1058);transform-origin:0 0;">Oct 9</div>
<div class="t" style="left:2061.0px;top:2682.6px;font-size:24.98px;font-weight:400;color:#6d737a;letter-spacing:0.000px;-webkit-text-stroke:0.30px #6d737a;transform:scaleX(1.0642);transform-origin:0 0;">Oct 21</div>
<div class="t" style="left:2240.3px;top:2682.6px;font-size:24.98px;font-weight:400;color:#6d737a;letter-spacing:0.000px;-webkit-text-stroke:0.30px #6d737a;transform:scaleX(1.1063);transform-origin:0 0;">Oct 28</div>
<div class="t" style="left:2420.8px;top:2682.6px;font-size:24.98px;font-weight:400;color:#6d737a;letter-spacing:0.000px;-webkit-text-stroke:0.30px #6d737a;transform:scaleX(1.0425);transform-origin:0 0;">Nov 10</div>
<div class="t" style="left:2602.8px;top:2682.6px;font-size:24.98px;font-weight:400;color:#6d737a;letter-spacing:0.000px;-webkit-text-stroke:0.30px #6d737a;transform:scaleX(1.0298);transform-origin:0 0;">Nov 17</div>
<div class="t" style="left:2781.2px;top:2682.6px;font-size:24.98px;font-weight:400;color:#6d737a;letter-spacing:0.000px;-webkit-text-stroke:0.30px #6d737a;transform:scaleX(1.0993);transform-origin:0 0;">Nov 25</div>
<div class="t" style="left:2970.2px;top:2682.6px;font-size:24.98px;font-weight:400;color:#6d737a;letter-spacing:0.000px;-webkit-text-stroke:0.30px #6d737a;transform:scaleX(1.0928);transform-origin:0 0;">Dec 2</div>
<div class="t" style="left:3115.2px;top:2682.6px;font-size:24.98px;font-weight:400;color:#6d737a;letter-spacing:0.000px;-webkit-text-stroke:0.30px #6d737a;transform:scaleX(1.0973);transform-origin:0 0;">Dec 8</div>
<div class="t" style="left:3291.5px;top:2682.6px;font-size:24.98px;font-weight:400;color:#6d737a;letter-spacing:0.000px;-webkit-text-stroke:0.30px #6d737a;transform:scaleX(1.0336);transform-origin:0 0;">Dec 16</div>
<div class="t" style="left:3469.8px;top:2682.6px;font-size:24.98px;font-weight:400;color:#6d737a;letter-spacing:0.000px;-webkit-text-stroke:0.30px #6d737a;transform:scaleX(1.0993);transform-origin:0 0;">Dec 23</div>
<div class="t" style="left:3661.2px;top:2682.6px;font-size:24.98px;font-weight:400;color:#6d737a;letter-spacing:0.000px;-webkit-text-stroke:0.30px #6d737a;transform:scaleX(1.0147);transform-origin:0 0;">Jan 1</div>
<div class="b" style="left:-6.0px;top:1876.0px;width:1585.4px;height:724.0px;background:#ffffff;border-radius:54.0px;"></div>
<div class="t" style="left:25.6px;top:1901.1px;font-size:27.16px;font-weight:700;font-style:italic;color:#111827;letter-spacing:0.000px;-webkit-text-stroke:1.30px #111827;transform:scaleX(1.0351);transform-origin:0 0;">Broker Net Holdings</div>
<div class="b" style="left:1248.6px;top:1892.8px;width:309.5px;height:45.7px;background:#efefef;border-radius:23.0px;"></div>
<div class="t" style="left:1262.6px;top:1907.4px;font-size:15.85px;font-weight:400;color:#111418;letter-spacing:0.000px;-webkit-text-stroke:0.30px #111418;transform:scaleX(1.0550);transform-origin:0 0;">All Sectors</div>
<svg width="14" height="9" viewBox="0 0 14 9" style="left:1528.3px;top:1912.2px" fill="none" stroke="#444a50" stroke-width="1.4" stroke-linecap="round" stroke-linejoin="round"><path d="M1.6 1.6 L7 7 L12.4 1.6"/></svg>
<div class="c" style="left:24.8px;top:1981.0px;width:184.9px;height:146.9px;background:#039a51;border-radius:2.6px"><span style="display:block;transform:translateY(6.6px);font-size:16.0px">KDBY</span></div>
<div class="c" style="left:212.6px;top:1981.0px;width:162.6px;height:146.9px;background:#039a51;border-radius:2.6px"><span style="display:block;transform:translateY(6.6px);font-size:16.0px">PRVU</span></div>
<div class="c" style="left:377.6px;top:1981.0px;width:121.4px;height:146.9px;background:#039a51;border-radius:2.6px"><span style="display:block;transform:translateY(6.6px);font-size:16.0px">KKHC</span></div>
<div class="c" style="left:162.9px;top:2130.5px;width:121.0px;height:89.1px;background:#039a51;border-radius:2.6px"><span style="display:block;transform:translateY(6.6px);font-size:16.0px">HURJA</span></div>
<div class="c" style="left:286.8px;top:2130.5px;width:120.3px;height:89.1px;background:#039a51;border-radius:2.6px"><span style="display:block;transform:translateY(6.6px);font-size:16.0px">SMJC</span></div>
<div class="c" style="left:409.9px;top:2130.5px;width:89.1px;height:89.1px;background:#039a51;border-radius:2.6px"><span style="display:block;transform:translateY(6.6px);font-size:16.0px">NABIL</span></div>
<div class="c" style="left:24.8px;top:2130.5px;width:135.6px;height:131.1px;background:#039a51;border-radius:2.6px"><span style="display:block;transform:translateY(6.6px);font-size:16.0px">LSL</span></div>
<div class="c" style="left:162.9px;top:2221.8px;width:91.9px;height:72.8px;background:#039a51;border-radius:2.6px"><span style="display:block;transform:translateY(6.6px);font-size:16.0px">PFL</span></div>
<div class="c" style="left:257.3px;top:2221.8px;width:83.1px;height:72.8px;background:#039a51;border-radius:2.6px"><span style="display:block;transform:translateY(6.6px);font-size:16.0px">NIFRA</span></div>
<div class="c" style="left:342.9px;top:2221.8px;width:81.3px;height:72.8px;background:#039a51;border-radius:2.6px"><span style="display:block;transform:translateY(6.6px);font-size:16.0px">RHGCL</span></div>
<div class="c" style="left:426.6px;top:2221.8px;width:72.4px;height:72.8px;background:#039a51;border-radius:2.6px"><span style="display:block;transform:translateY(6.6px);font-size:16.0px">UPCL</span></div>
<div class="c" style="left:24.8px;top:2264.4px;width:135.6px;height:118.2px;background:#039a51;border-radius:2.6px"><span style="display:block;transform:translateY(6.6px);font-size:16.0px">UPPER</span></div>
<div class="c" style="left:24.8px;top:2385.4px;width:135.6px;height:89.4px;background:#039a51;border-radius:2.6px"><span style="display:block;transform:translateY(6.6px);font-size:16.0px">BFC</span></div>
<div class="c" style="left:24.8px;top:2477.7px;width:135.6px;height:88.4px;background:#039a51;border-radius:2.6px"><span style="display:block;transform:translateY(6.6px);font-size:16.0px">NYADI</span></div>
<div class="c" style="left:162.9px;top:2297.4px;width:65.7px;height:76.0px;background:#039a51;border-radius:2.6px"><span style="display:block;transform:translateY(6.6px);font-size:16.0px">AKJCL</span></div>
<div class="c" style="left:162.9px;top:2375.8px;width:65.7px;height:68.9px;background:#039a51;border-radius:2.6px"><span style="display:block;transform:translateY(6.6px);font-size:16.0px">PHCL</span></div>
<div class="c" style="left:162.9px;top:2447.5px;width:65.7px;height:61.0px;background:#039a51;border-radius:2.6px"><span style="display:block;transform:translateY(6.6px);font-size:16.0px">LEC</span></div>
<div class="c" style="left:162.9px;top:2511.0px;width:65.7px;height:55.0px;background:#039a51;border-radius:2.6px"><span style="display:block;transform:translateY(6.6px);font-size:16.0px">SHINE</span></div>
<div class="c" style="left:231.1px;top:2297.4px;width:56.4px;height:61.8px;background:#039a51;border-radius:2.6px"><span style="display:block;transform:translateY(6.6px);font-size:13.8px">NABBC</span></div>
<div class="c" style="left:290.0px;top:2297.4px;width:51.8px;height:61.8px;background:#039a51;border-radius:2.6px"><span style="display:block;transform:translateY(6.6px);font-size:13.8px">GBBL</span></div>
<div class="c" style="left:344.3px;top:2297.4px;width:50.4px;height:61.8px;background:#039a51;border-radius:2.6px"><span style="display:block;transform:translateY(6.6px);font-size:13.8px">SFCL</span></div>
<div class="c" style="left:397.2px;top:2297.4px;width:49.7px;height:61.8px;background:#039a51;border-radius:2.6px"><span style="display:block;transform:translateY(6.6px);font-size:13.8px">SIFC</span></div>
<div class="c" style="left:449.3px;top:2297.4px;width:49.7px;height:61.8px;background:#039a51;border-radius:2.6px"><span style="display:block;transform:translateY(6.6px);font-size:13.8px">KEF</span></div>
<div class="c" style="left:231.1px;top:2362.0px;width:55.0px;height:52.2px;background:#039a51;border-radius:2.6px"><span style="display:block;transform:translateY(6.6px);font-size:13.0px">SGIC</span></div>
<div class="c" style="left:231.1px;top:2416.6px;width:55.0px;height:51.5px;background:#039a51;border-radius:2.6px"><span style="display:block;transform:translateY(6.6px);font-size:13.0px">SAHAS</span></div>
<div class="c" style="left:231.1px;top:2470.6px;width:55.0px;height:47.9px;background:#039a51;border-radius:2.6px"><span style="display:block;transform:translateY(6.6px);font-size:13.0px">KSBBL</span></div>
<div class="c" style="left:231.1px;top:2521.0px;width:55.0px;height:45.1px;background:#039a51;border-radius:2.6px"><span style="display:block;transform:translateY(6.6px);font-size:13.0px">NRM</span></div>
<div class="c" style="left:288.9px;top:2362.0px;width:42.2px;height:58.2px;background:#039a51;border-radius:2.6px"><span style="display:block;transform:translateY(6.6px);font-size:12.0px">RHPL</span></div>
<div class="c" style="left:288.9px;top:2422.7px;width:42.2px;height:50.0px;background:#039a51;border-radius:2.6px"><span style="display:block;transform:translateY(6.6px);font-size:12.0px">SRLI</span></div>
<div class="c" style="left:288.9px;top:2475.2px;width:42.2px;height:47.6px;background:#039a51;border-radius:2.6px"><span style="display:block;transform:translateY(6.6px);font-size:12.0px">SBL</span></div>
<div class="c" style="left:288.9px;top:2525.2px;width:42.2px;height:40.8px;background:#039a51;border-radius:2.6px"><span style="display:block;transform:translateY(6.6px);font-size:12.0px">ADBL</span></div>
<div class="c" style="left:333.6px;top:2362.0px;width:41.5px;height:40.5px;background:#039a51;border-radius:2.6px"><span style="display:block;transform:translateY(6.6px);font-size:10.0px">RLFL</span></div>
<div class="c" style="left:377.6px;top:2362.0px;width:41.5px;height:40.5px;background:#039a51;border-radius:2.6px"><span style="display:block;transform:translateY(6.6px);font-size:10.0px">PROFL</span></div>
<div class="c" style="left:421.7px;top:2362.0px;width:36.9px;height:40.5px;background:#039a51;border-radius:2.6px"><span style="display:block;transform:translateY(6.6px);font-size:10.0px">LICN</span></div>
<div class="c" style="left:461.0px;top:2362.0px;width:38.0px;height:40.5px;background:#039a51;border-radius:2.6px"><span style="display:block;transform:translateY(6.6px);font-size:10.0px">MKJC</span></div>
<div class="c" style="left:333.6px;top:2404.9px;width:32.3px;height:45.8px;background:#039a51;border-radius:2.6px"><span style="display:block;transform:translateY(6.6px);font-size:9.3px">USHL</span></div>
<div class="c" style="left:333.6px;top:2453.2px;width:32.3px;height:38.3px;background:#039a51;border-radius:2.6px"><span style="display:block;transform:translateY(6.6px);font-size:9.3px">HPPL</span></div>
<div class="c" style="left:333.6px;top:2494.0px;width:32.3px;height:37.3px;background:#039a51;border-radius:2.6px"><span style="display:block;transform:translateY(6.6px);font-size:9.3px">GFCL</span></div>
<div class="c" style="left:333.6px;top:2533.8px;width:32.3px;height:32.3px;background:#039a51;border-radius:2.6px"><span style="display:block;transform:translateY(6.6px);font-size:9.3px">SMB</span></div>
<div class="c" style="left:368.4px;top:2404.9px;width:30.9px;height:30.9px;background:#039a51;border-radius:2.6px"><span style="display:block;transform:translateY(6.6px);font-size:7.6px">HHL</span></div>
<div class="c" style="left:401.8px;top:2404.9px;width:31.2px;height:30.9px;background:#039a51;border-radius:2.6px"><span style="display:block;transform:translateY(6.6px);font-size:7.6px">NICFC</span></div>
<div class="c" style="left:435.5px;top:2404.9px;width:31.2px;height:30.9px;background:#039a51;border-radius:2.6px"><span style="display:block;transform:translateY(6.6px);font-size:7.6px">SBI</span></div>
<div class="c" style="left:469.2px;top:2404.9px;width:29.8px;height:30.9px;background:#039a51;border-radius:2.6px"><span style="display:block;transform:translateY(2px) rotate(-90deg);font-size:9.0px">USHEC</span></div>
<div class="c" style="left:368.4px;top:2438.3px;width:27.7px;height:31.2px;background:#039a51;border-radius:2.6px"><span style="display:block;transform:translateY(6.6px);font-size:7.6px">NLG</span></div>
<div class="c" style="left:368.4px;top:2472.0px;width:27.7px;height:30.2px;background:#039a51;border-radius:2.6px"><span style="display:block;transform:translateY(6.6px);font-size:7.6px">CZBIL</span></div>
<div class="c" style="left:368.4px;top:2504.6px;width:27.7px;height:30.5px;background:#039a51;border-radius:2.6px"><span style="display:block;transform:translateY(6.6px);font-size:7.6px">CBBL</span></div>
<div class="c" style="left:368.4px;top:2537.7px;width:27.7px;height:28.4px;background:#039a51;border-radius:2.6px"><span style="display:block;transform:translateY(6.6px);font-size:7.6px">CIT</span></div>
<div class="c" style="left:398.6px;top:2438.3px;width:25.6px;height:23.8px;background:#039a51;border-radius:2.6px"><span style="display:block;transform:translateY(6.6px);font-size:6.0px">PPCL</span></div>
<div class="c" style="left:426.6px;top:2438.3px;width:23.8px;height:23.8px;background:#039a51;border-radius:2.6px"><span style="display:block;transform:translateY(6.6px);font-size:6.0px">GCIL</span></div>
<div class="c" style="left:452.9px;top:2438.3px;width:22.0px;height:23.8px;background:#039a51;border-radius:2.6px"><span style="display:block;transform:translateY(6.6px);font-size:6.0px">ULHC</span></div>
<div class="c" style="left:477.4px;top:2438.3px;width:21.7px;height:23.8px;background:#039a51;border-radius:2.6px"><span style="display:block;transform:translateY(6.6px);font-size:6.0px">CGH</span></div>
<div class="c" style="left:398.6px;top:2464.5px;width:25.6px;height:20.2px;background:#039a51;border-radius:2.6px"><span style="display:block;transform:translateY(6.6px);font-size:5.8px">GBLBS</span></div>
<div class="c" style="left:426.6px;top:2464.5px;width:23.8px;height:20.2px;background:#039a51;border-radius:2.6px"><span style="display:block;transform:translateY(6.6px);font-size:5.8px">DOLTI</span></div>
<div class="c" style="left:452.9px;top:2464.5px;width:22.0px;height:20.2px;background:#039a51;border-radius:2.6px"><span style="display:block;transform:translateY(6.6px);font-size:5.8px">ENL</span></div>
<div class="c" style="left:477.4px;top:2464.5px;width:21.7px;height:20.2px;background:#039a51;border-radius:2.6px"><span style="display:block;transform:translateY(2px) rotate(-90deg);font-size:5.8px">ATHY</span></div>
<div class="c" style="left:398.6px;top:2487.3px;width:24.5px;height:17.7px;background:#039a51;border-radius:2.6px"><span style="display:block;transform:translateY(6.6px);font-size:5.4px">LBBL</span></div>
<div class="c" style="left:425.6px;top:2487.3px;width:24.5px;height:17.7px;background:#039a51;border-radius:2.6px"><span style="display:block;transform:translateY(6.6px);font-size:5.4px">NMLBBL</span></div>
<div class="c" style="left:452.5px;top:2487.3px;width:22.4px;height:17.7px;background:#039a51;border-radius:2.6px"><span style="display:block;transform:translateY(6.6px);font-size:5.4px">ILI</span></div>
<div class="c" style="left:477.4px;top:2487.3px;width:21.7px;height:17.7px;background:#039a51;border-radius:2.6px"><span style="display:block;transform:translateY(6.6px);font-size:5.4px">MEHL</span></div>
<div class="c" style="left:398.7px;top:2507.3px;width:24.5px;height:17.4px;background:#039a51;border-radius:2.6px"><span style="display:block;transform:translateY(6.6px);font-size:5.3px">MERO</span></div>
<div class="c" style="left:398.7px;top:2527.7px;width:24.5px;height:17.8px;background:#039a51;border-radius:2.6px"><span style="display:block;transform:translateY(2px) rotate(-90deg);font-size:5.3px">ISDO</span></div>
<div class="c" style="left:398.7px;top:2548.1px;width:24.5px;height:18.0px;background:#039a51;border-radius:2.6px"><span style="display:block;transform:translateY(6.6px);font-size:5.3px">NIBSF2</span></div>
<div class="c" style="left:426.1px;top:2507.8px;width:15.6px;height:22.3px;background:#039a51;border-radius:2.6px"><span style="display:block;transform:translateY(6.6px);font-size:4.6px">HDL</span></div>
<div class="c" style="left:426.1px;top:2532.4px;width:15.6px;height:18.5px;background:#039a51;border-radius:2.6px"><span style="display:block;transform:translateY(6.6px);font-size:4.6px">HEI</span></div>
<div class="c" style="left:426.1px;top:2553.1px;width:15.6px;height:13.1px;background:#039a51;border-radius:2.6px"><span style="display:block;transform:translateY(6.6px);font-size:3.6px">SHL</span></div>
<div class="c" style="left:444.4px;top:2508.4px;width:16.3px;height:11.4px;background:#039a51;border-radius:3.2px"></div>
<div class="c" style="left:463.5px;top:2508.4px;width:16.3px;height:11.4px;background:#039a51;border-radius:3.2px"></div>
<div class="c" style="left:482.5px;top:2508.4px;width:16.3px;height:11.4px;background:#039a51;border-radius:3.2px"></div>
<div class="c" style="left:444.4px;top:2522.5px;width:15.8px;height:13.1px;background:#039a51;border-radius:3.2px"></div>
<div class="c" style="left:444.4px;top:2538.1px;width:15.8px;height:13.3px;background:#039a51;border-radius:3.2px"></div>
<div class="c" style="left:444.4px;top:2553.6px;width:15.8px;height:12.5px;background:#039a51;border-radius:3.2px"></div>
<div class="c" style="left:462.9px;top:2522.5px;width:17.4px;height:9.8px;background:#039a51;border-radius:3.2px"></div>
<div class="c" style="left:483.6px;top:2523.1px;width:15.3px;height:9.3px;background:#039a51;border-radius:3.2px"></div>
<div class="c" style="left:462.9px;top:2535.6px;width:10.9px;height:9.3px;background:#039a51;border-radius:3.2px"></div>
<div class="c" style="left:462.9px;top:2547.6px;width:10.9px;height:8.7px;background:#039a51;border-radius:3.2px"></div>
<div class="c" style="left:462.9px;top:2559.0px;width:10.9px;height:7.1px;background:#039a51;border-radius:3.2px"></div>
<div class="c" style="left:477.1px;top:2535.6px;width:9.3px;height:6.5px;background:#039a51;border-radius:2.4px"></div>
<div class="c" style="left:489.1px;top:2535.6px;width:9.8px;height:6.0px;background:#039a51;border-radius:2.4px"></div>
<div class="c" style="left:477.1px;top:2544.9px;width:4.9px;height:12.0px;background:#039a51;border-radius:2.4px"></div>
<div class="c" style="left:485.3px;top:2544.9px;width:5.4px;height:4.9px;background:#039a51;border-radius:2.4px"></div>
<div class="c" style="left:493.4px;top:2544.9px;width:5.4px;height:4.9px;background:#039a51;border-radius:2.4px"></div>
<div class="c" style="left:485.3px;top:2552.0px;width:5.4px;height:3.8px;background:#039a51;border-radius:2.4px"></div>
<div class="c" style="left:493.4px;top:2552.0px;width:5.4px;height:3.8px;background:#039a51;border-radius:2.4px"></div>
<div class="c" style="left:477.1px;top:2559.0px;width:4.4px;height:7.1px;background:#039a51;border-radius:2.4px"></div>
<div class="c" style="left:485.3px;top:2558.5px;width:2.2px;height:7.6px;background:#039a51;border-radius:2.4px"></div>
<div class="c" style="left:490.2px;top:2558.5px;width:2.2px;height:7.6px;background:#039a51;border-radius:2.4px"></div>
<div class="c" style="left:495.1px;top:2558.5px;width:3.8px;height:7.1px;background:#039a51;border-radius:2.4px"></div>
<div class="c" style="left:503.2px;top:1981.0px;width:9.7px;height:5.9px;background:#f33446;border-radius:3.4px"></div>
<div class="c" style="left:503.2px;top:1989.5px;width:9.7px;height:5.9px;background:#f33446;border-radius:3.4px"></div>
<div class="c" style="left:503.2px;top:1998.5px;width:9.7px;height:5.4px;background:#f33446;border-radius:3.4px"></div>
<div class="c" style="left:503.2px;top:2006.9px;width:9.7px;height:6.3px;background:#f33446;border-radius:3.4px"></div>
<div class="c" style="left:503.2px;top:2016.1px;width:9.7px;height:10.7px;background:#f33446;border-radius:3.4px"></div>
<div class="c" style="left:503.2px;top:2029.7px;width:9.7px;height:12.9px;background:#f33446;border-radius:3.4px"></div>
<div class="c" style="left:503.2px;top:2044.9px;width:9.7px;height:14.1px;background:#f33446;border-radius:3.4px"></div>
<div class="c" style="left:503.2px;top:2062.4px;width:9.7px;height:15.3px;background:#f33446;border-radius:3.4px"></div>
<div class="c" style="left:503.2px;top:2080.2px;width:9.7px;height:17.8px;background:#f33446;border-radius:3.4px"></div>
<div class="c" style="left:503.2px;top:2100.8px;width:9.7px;height:20.8px;background:#f33446;border-radius:3.4px"></div>
<div class="c" style="left:503.2px;top:2124.6px;width:9.7px;height:23.1px;background:#f33446;border-radius:3.4px"></div>
<div class="c" style="left:503.2px;top:2150.5px;width:9.7px;height:25.4px;background:#f33446;border-radius:3.4px"></div>
<div class="c" style="left:503.2px;top:2179.3px;width:9.7px;height:24.6px;background:#f33446;border-radius:3.4px"></div>
<div class="c" style="left:503.2px;top:2207.3px;width:9.7px;height:27.1px;background:#f33446;border-radius:3.4px"></div>
<div class="c" style="left:503.2px;top:2237.8px;width:9.7px;height:-1.8px;background:#f33446;border-radius:3.4px"></div>
<div class="c" style="left:503.2px;top:2238.5px;width:9.7px;height:31.2px;background:#f33446;border-radius:3.4px"></div>
<div class="c" style="left:503.2px;top:2272.5px;width:9.7px;height:35.5px;background:#f33446;border-radius:3.4px"></div>
<div class="c" style="left:503.2px;top:2310.9px;width:9.7px;height:35.8px;background:#f33446;border-radius:3.4px"></div>
<div class="c" style="left:503.2px;top:2349.5px;width:9.7px;height:41.2px;background:#f33446;border-radius:3.4px"></div>
<div class="c" style="left:503.2px;top:2393.6px;width:9.7px;height:41.2px;background:#f33446;border-radius:3.4px"></div>
<div class="c" style="left:503.2px;top:2437.6px;width:9.7px;height:40.8px;background:#f33446;border-radius:3.4px"></div>
<div class="c" style="left:503.2px;top:2481.2px;width:9.7px;height:41.5px;background:#f33446;border-radius:3.4px"></div>
<div class="c" style="left:503.2px;top:2525.6px;width:9.7px;height:40.5px;background:#f33446;border-radius:3.4px"></div>
<div class="c" style="left:515.8px;top:1981.0px;width:31.4px;height:17.5px;background:#f33446;border-radius:2.6px"><span style="display:block;transform:translateY(6.6px);font-size:6.0px">CHCL</span></div>
<div class="c" style="left:515.8px;top:2001.0px;width:31.4px;height:19.5px;background:#f33446;border-radius:2.6px"><span style="display:block;transform:translateY(6.6px);font-size:6.0px">MLBBL</span></div>
<div class="c" style="left:515.8px;top:2023.6px;width:31.4px;height:20.5px;background:#f33446;border-radius:2.6px"><span style="display:block;transform:translateY(6.6px);font-size:6.4px">NGPL</span></div>
<div class="c" style="left:515.8px;top:2047.1px;width:31.4px;height:21.7px;background:#f33446;border-radius:2.6px"><span style="display:block;transform:translateY(6.6px);font-size:6.6px">GUFL</span></div>
<div class="c" style="left:515.8px;top:2071.7px;width:31.4px;height:23.7px;background:#f33446;border-radius:2.6px"><span style="display:block;transform:translateY(6.6px);font-size:6.8px">MFIL</span></div>
<div class="c" style="left:515.8px;top:2098.3px;width:31.4px;height:25.1px;background:#f33446;border-radius:2.6px"><span style="display:block;transform:translateY(6.6px);font-size:7.0px">SINDU</span></div>
<div class="c" style="left:515.8px;top:2126.3px;width:31.4px;height:25.4px;background:#f33446;border-radius:2.6px"><span style="display:block;transform:translateY(6.6px);font-size:7.2px">BNHC</span></div>
<div class="c" style="left:515.8px;top:2154.7px;width:31.4px;height:26.8px;background:#f33446;border-radius:2.6px"><span style="display:block;transform:translateY(6.6px);font-size:7.3px">MBJC</span></div>
<div class="c" style="left:515.8px;top:2184.4px;width:31.4px;height:27.6px;background:#f33446;border-radius:2.6px"><span style="display:block;transform:translateY(6.6px);font-size:7.4px">HBL</span></div>
<div class="c" style="left:515.8px;top:2215.3px;width:31.3px;height:29.6px;background:#f33446;border-radius:2.6px"><span style="display:block;transform:translateY(6.6px);font-size:7.6px">EHPL</span></div>
<div class="c" style="left:515.8px;top:2247.7px;width:31.3px;height:36.9px;background:#f33446;border-radius:2.6px"><span style="display:block;transform:translateY(6.6px);font-size:7.8px">UAIL</span></div>
<div class="c" style="left:515.8px;top:2287.4px;width:31.3px;height:43.3px;background:#f33446;border-radius:2.6px"><span style="display:block;transform:translateY(6.6px);font-size:8.0px">GHL</span></div>
<div class="c" style="left:515.8px;top:2333.6px;width:31.3px;height:47.6px;background:#f33446;border-radius:2.6px"><span style="display:block;transform:translateY(2px) rotate(-90deg);font-size:9.0px">UMHL</span></div>
<div class="c" style="left:515.8px;top:2384.0px;width:31.3px;height:54.3px;background:#f33446;border-radius:2.6px"><span style="display:block;transform:translateY(2px) rotate(-90deg);font-size:10.0px">AKPL</span></div>
<div class="c" style="left:515.8px;top:2441.1px;width:31.3px;height:54.7px;background:#f33446;border-radius:2.6px"><span style="display:block;transform:translateY(2px) rotate(-90deg);font-size:10.0px">SKBBL</span></div>
<div class="c" style="left:515.8px;top:2498.6px;width:31.3px;height:67.4px;background:#f33446;border-radius:2.6px"><span style="display:block;transform:translateY(6.6px);font-size:10.9px">RIDI</span></div>
<div class="c" style="left:550.0px;top:1981.0px;width:55.6px;height:39.5px;background:#f33446;border-radius:2.6px"><span style="display:block;transform:translateY(6.6px);font-size:11.6px">MPFL</span></div>
<div class="c" style="left:550.0px;top:2023.6px;width:55.6px;height:44.7px;background:#f33446;border-radius:2.6px"><span style="display:block;transform:translateY(6.6px);font-size:11.6px">MHCL</span></div>
<div class="c" style="left:550.0px;top:2071.0px;width:55.6px;height:44.7px;background:#f33446;border-radius:2.6px"><span style="display:block;transform:translateY(6.6px);font-size:11.6px">SPDL</span></div>
<div class="c" style="left:550.0px;top:2118.8px;width:55.6px;height:44.9px;background:#f33446;border-radius:2.6px"><span style="display:block;transform:translateY(6.6px);font-size:11.6px">SMHL</span></div>
<div class="c" style="left:550.0px;top:2166.9px;width:55.6px;height:48.8px;background:#f33446;border-radius:2.6px"><span style="display:block;transform:translateY(6.6px);font-size:11.6px">CFCL</span></div>
<div class="c" style="left:550.0px;top:2218.8px;width:55.6px;height:62.6px;background:#f33446;border-radius:2.6px"><span style="display:block;transform:translateY(6.6px);font-size:12.0px">HLI</span></div>
<div class="c" style="left:550.0px;top:2284.2px;width:55.6px;height:65.7px;background:#f33446;border-radius:2.6px"><span style="display:block;transform:translateY(6.6px);font-size:12.5px">NTC</span></div>
<div class="c" style="left:550.0px;top:2352.7px;width:55.6px;height:65.7px;background:#f33446;border-radius:2.6px"><span style="display:block;transform:translateY(6.6px);font-size:12.8px">SHIVM</span></div>
<div class="c" style="left:550.0px;top:2421.2px;width:55.6px;height:67.8px;background:#f33446;border-radius:2.6px"><span style="display:block;transform:translateY(6.6px);font-size:13.0px">HRL</span></div>
<div class="c" style="left:550.0px;top:2491.9px;width:55.6px;height:74.2px;background:#f33446;border-radius:2.6px"><span style="display:block;transform:translateY(6.6px);font-size:13.8px">SHPC</span></div>
<div class="c" style="left:608.1px;top:1981.0px;width:66.9px;height:64.7px;background:#f33446;border-radius:2.6px"><span style="display:block;transform:translateY(6.6px);font-size:15.5px">TVCL</span></div>
<div class="c" style="left:608.1px;top:2048.5px;width:66.9px;height:66.8px;background:#f33446;border-radius:2.6px"><span style="display:block;transform:translateY(6.6px);font-size:15.5px">PMHPL</span></div>
<div class="c" style="left:608.1px;top:2118.0px;width:66.9px;height:73.6px;background:#f33446;border-radius:2.6px"><span style="display:block;transform:translateY(6.6px);font-size:15.5px">SGHC</span></div>
<div class="c" style="left:608.1px;top:2194.6px;width:67.0px;height:77.6px;background:#f33446;border-radius:2.6px"><span style="display:block;transform:translateY(6.6px);font-size:15.5px">MEL</span></div>
<div class="c" style="left:608.1px;top:2275.0px;width:67.0px;height:78.4px;background:#f33446;border-radius:2.6px"><span style="display:block;transform:translateY(6.6px);font-size:15.5px">SFMF</span></div>
<div class="c" style="left:608.1px;top:2356.3px;width:67.0px;height:100.8px;background:#f33446;border-radius:2.6px"><span style="display:block;transform:translateY(6.6px);font-size:15.5px">API</span></div>
<div class="c" style="left:608.1px;top:2459.9px;width:67.0px;height:106.1px;background:#f33446;border-radius:2.6px"><span style="display:block;transform:translateY(6.6px);font-size:15.5px">JBBL</span></div>
<div class="c" style="left:677.8px;top:1981.0px;width:95.5px;height:99.0px;background:#f33446;border-radius:2.6px"><span style="display:block;transform:translateY(6.6px);font-size:16.0px">ICFC</span></div>
<div class="c" style="left:677.8px;top:2083.3px;width:95.5px;height:102.9px;background:#f33446;border-radius:2.6px"><span style="display:block;transform:translateY(6.6px);font-size:16.0px">NFS</span></div>
<div class="c" style="left:677.8px;top:2189.5px;width:95.5px;height:104.6px;background:#f33446;border-radius:2.6px"><span style="display:block;transform:translateY(6.6px);font-size:16.0px">NRN</span></div>
<div class="c" style="left:677.8px;top:2297.4px;width:95.5px;height:114.4px;background:#f33446;border-radius:2.6px"><span style="display:block;transform:translateY(6.6px);font-size:16.0px">PCBL</span></div>
<div class="c" style="left:677.8px;top:2415.1px;width:95.5px;height:151.1px;background:#f33446;border-radius:2.6px"><span style="display:block;transform:translateY(6.6px);font-size:16.0px">JFL</span></div>
<div class="c" style="left:776.2px;top:1981.2px;width:143.7px;height:187.3px;background:#f33446;border-radius:2.6px"><span style="display:block;transform:translateY(6.6px);font-size:16.0px">SHEL</span></div>
<div class="c" style="left:776.2px;top:2171.8px;width:143.7px;height:192.7px;background:#f33446;border-radius:2.6px"><span style="display:block;transform:translateY(6.6px);font-size:16.0px">HIDCL</span></div>
<div class="c" style="left:776.2px;top:2367.8px;width:143.7px;height:198.4px;background:#f33446;border-radius:2.6px"><span style="display:block;transform:translateY(6.6px);font-size:16.0px">NBL</span></div>
<div class="c" style="left:922.7px;top:1981.2px;width:211.2px;height:235.1px;background:#f33446;border-radius:2.6px"><span style="display:block;transform:translateY(6.6px);font-size:16.0px">NHPC</span></div>
<div class="c" style="left:922.7px;top:2219.6px;width:211.2px;height:346.7px;background:#f33446;border-radius:2.6px"><span style="display:block;transform:translateY(6.6px);font-size:16.0px">NIMB</span></div>
<div class="c" style="left:1136.8px;top:1981.2px;width:419.9px;height:585.0px;background:#f33446;border-radius:2.6px"><span style="display:block;transform:translateY(6.6px);font-size:16.0px">SBCF</span></div>
</div>
</body></html>
